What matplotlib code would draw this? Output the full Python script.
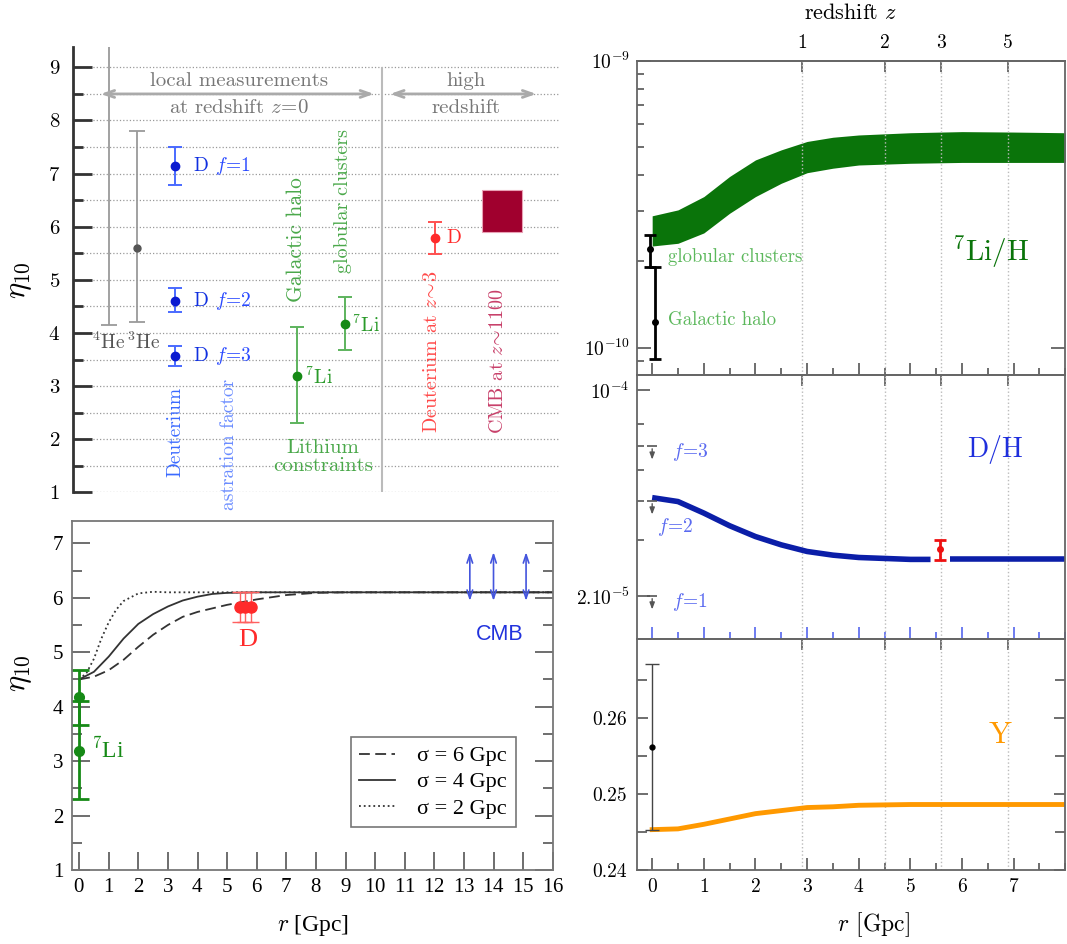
import numpy as np
import matplotlib
matplotlib.use('Agg')
import matplotlib.pyplot as plt
from matplotlib.ticker import FixedLocator, NullFormatter, MultipleLocator

plt.rcParams['font.family'] = 'cmr10'
plt.rcParams['mathtext.fontset'] = 'cm'
plt.rcParams['axes.unicode_minus'] = False
plt.rcParams['axes.formatter.use_mathtext'] = True

# ---------------------------------------------------------------
# eta_10 constraints (upper left); x is a column position 0..100
# ---------------------------------------------------------------
he4_x, he4_low = 7.45, 4.15
he3_x, he3_eta, he3_low, he3_high = 13.3, 5.6, 4.2, 7.8
d_x = 21.1
d_f = [1, 2, 3]
d_eta = [7.14, 4.61, 3.57]
d_low = [6.79, 4.39, 3.38]
d_high = [7.50, 4.85, 3.75]
li_x = [46.1, 55.8]            # Galactic halo, globular clusters
li_eta = [3.19, 4.17]
li_low = [2.30, 3.67]
li_high = [4.11, 4.67]
dz3_x, dz3_eta, dz3_low, dz3_high = 74.3, 5.79, 5.48, 6.08
cmb_x0, cmb_x1 = 84.0, 92.2
cmb_low, cmb_high = 5.9, 6.7
sep_x = 63.5

# ---------------------------------------------------------------
# eta_10(r) profiles (lower left)
# ---------------------------------------------------------------
r_sig6 = [0, 0.5, 1, 1.5, 2, 2.5, 3, 3.5, 4, 5, 6, 7, 8, 9, 16]
eta_sig6 = [4.50, 4.55, 4.67, 4.86, 5.10, 5.32, 5.50, 5.65, 5.74, 5.87, 5.97, 6.05, 6.09, 6.10, 6.10]
r_sig4 = [0, 0.5, 1, 1.5, 2, 2.5, 3, 3.5, 4, 4.5, 5, 6, 16]
eta_sig4 = [4.50, 4.64, 4.92, 5.25, 5.52, 5.70, 5.84, 5.95, 6.02, 6.07, 6.09, 6.10, 6.10]
r_sig2 = [0, 0.25, 0.5, 0.75, 1.0, 1.25, 1.5, 2.0, 2.5, 3.0, 16]
eta_sig2 = [4.50, 4.62, 4.88, 5.25, 5.55, 5.78, 5.94, 6.08, 6.11, 6.10, 6.10]
d_r = [5.42, 5.60, 5.81]
d_eta_r, d_low_r, d_high_r = 5.83, 5.55, 6.11
cmb_r = [13.2, 14.0, 15.1]
cmb_arrow_low, cmb_arrow_high = 5.89, 6.89

# ---------------------------------------------------------------
# abundances vs r (right column)
# ---------------------------------------------------------------
z_labels = [1, 2, 3, 5]
z_r = [2.91, 4.50, 5.60, 6.89]

r_band = [0, 0.5, 1, 1.5, 2, 2.5, 3, 3.5, 4, 5, 6, 7, 8]
li_upper = np.array([2.88, 3.02, 3.36, 3.95, 4.51, 4.89, 5.23, 5.41, 5.51, 5.61, 5.66, 5.64, 5.61]) * 1e-10
li_lower = np.array([2.26, 2.31, 2.51, 2.94, 3.36, 3.74, 4.07, 4.22, 4.33, 4.39, 4.42, 4.42, 4.42]) * 1e-10
li_obs_r = [-0.05, 0.06]       # globular clusters, Galactic halo
li_obs = np.array([2.20, 1.23]) * 1e-10
li_obs_low = np.array([1.91, 0.91]) * 1e-10
li_obs_high = np.array([2.47, 1.91]) * 1e-10

r_dh_a = [0, 0.5, 1, 1.5, 2, 2.5, 3, 3.5, 4, 4.5, 5, 5.39]
dh_a = np.array([4.31, 4.18, 3.82, 3.46, 3.18, 2.98, 2.83, 2.75, 2.70, 2.68, 2.66, 2.66]) * 1e-5
r_dh_b = [5.77, 8]
dh_b = np.array([2.66, 2.66]) * 1e-5
dh_limits = np.array([2.0, 4.2, 6.45]) * 1e-5     # f = 1, 2, 3
dh_obs_r, dh_obs, dh_obs_low, dh_obs_high = 5.58, 2.88e-5, 2.65e-5, 3.10e-5

r_y = [0, 0.5, 1, 1.5, 2, 2.5, 3, 3.5, 4, 5, 6, 8]
y_he = [0.2453, 0.2454, 0.2460, 0.2467, 0.2474, 0.2478, 0.2482, 0.2483, 0.2485, 0.2486, 0.2486, 0.2486]
y_obs, y_obs_low, y_obs_high = 0.2562, 0.2453, 0.2671

GRAY = '#9a9a9a'
BLUE_D = '#1030e0'
GREEN_PT = '#168a16'
GREEN_TXT = '#4aa84a'
RED = '#ff2a2a'

fig = plt.figure(figsize=(10.67, 9.44), dpi=100)

# ================= upper left =================
ax1 = fig.add_axes([0.0681, 0.4785, 0.4567, 0.4715])
ax1.set_xlim(0, 100)
ax1.set_ylim(1, 9.38)
for s in ['top', 'right', 'bottom']:
    ax1.spines[s].set_visible(False)
ax1.spines['left'].set_linewidth(2)
ax1.spines['left'].set_color('#333333')
ax1.set_xticks([])
ax1.set_yticks(range(1, 10))
ax1.yaxis.set_minor_locator(MultipleLocator(0.5))
ax1.tick_params(axis='y', which='major', direction='in', length=14, width=2,
                color='#333333', labelsize=15, pad=9)
ax1.tick_params(axis='y', which='minor', direction='in', length=7, width=2, color='#333333')
ax1.grid(True, which='both', axis='y', ls=':', color='#999999', lw=0.9)
ax1.set_axisbelow(True)

# helium
ax1.vlines(he4_x, he4_low, 9.38, color=GRAY, lw=1.3)
ax1.plot(he4_x, he4_low, marker='_', ms=11, mew=1.3, color=GRAY)
ax1.errorbar(he3_x, he3_eta, yerr=[[he3_eta - he3_low], [he3_high - he3_eta]],
             fmt='o', ms=5, color='#555555', ecolor=GRAY, elinewidth=1.3,
             capsize=5.5, capthick=1.3)
ax1.text(he4_x, 3.83, r'$^4$He', ha='center', va='center', color='#555555', fontsize=14)
ax1.text(he3_x + 1.2, 3.83, r'$^3$He', ha='center', va='center', color='#555555', fontsize=14)

# deuterium with astration factors
for f, e, lo, hi in zip(d_f, d_eta, d_low, d_high):
    ax1.errorbar(d_x, e, yerr=[[e - lo], [hi - e]], fmt='o', ms=6, color='#0a1ad0',
                 ecolor='#4a6aff', elinewidth=1.4, capsize=5, capthick=1.4)
    ax1.text(d_x + 3.6, e, 'D', va='center', color=BLUE_D, fontsize=14)
    ax1.text(d_x + 8.2, e, r'$f\!=\!%d$' % f, va='center', color='#2a4aff', fontsize=14)
ax1.text(d_x, 2.13, 'Deuterium', rotation=90, ha='center', va='center', color='#3a6aff', fontsize=14)
ax1.text(32.0, 1.90, 'astration factor', rotation=90, ha='center', va='center',
         color='#6a8cff', fontsize=14, clip_on=False)

# lithium
for x, e, lo, hi in zip(li_x, li_eta, li_low, li_high):
    ax1.errorbar(x, e, yerr=[[e - lo], [hi - e]], fmt='o', ms=6, color=GREEN_PT,
                 ecolor='#5db35d', elinewidth=1.4, capsize=5, capthick=1.4)
    ax1.text(x + 1.6, e - 0.02, r'$^7$Li', va='center', color='#2a9a2a', fontsize=14)
ax1.text(45.8, 5.75, 'Galactic halo', rotation=90, ha='center', va='center', color=GREEN_TXT, fontsize=15.5)
ax1.text(55.5, 6.49, 'globular clusters', rotation=90, ha='center', va='center', color=GREEN_TXT, fontsize=14.5)
ax1.text(51.4, 1.67, 'Lithium\nconstraints', ha='center', va='center', color=GREEN_TXT,
         fontsize=15, linespacing=1.0)

# high redshift
ax1.vlines(sep_x, 1, 9, color='#bbbbbb', lw=1.5)
ax1.errorbar(dz3_x, dz3_eta, yerr=[[dz3_eta - dz3_low], [dz3_high - dz3_eta]], fmt='o', ms=6,
             color=RED, ecolor='#ff5050', elinewidth=1.4, capsize=5, capthick=1.4)
ax1.text(dz3_x + 2.3, dz3_eta, 'D', va='center', color=RED, fontsize=14)
ax1.text(73.7, 3.64, r'Deuterium at $z\!\sim\!3$', rotation=90, ha='center', va='center',
         color='#ff4a4a', fontsize=14.5)
ax1.bar((cmb_x0 + cmb_x1) / 2, cmb_high - cmb_low, width=cmb_x1 - cmb_x0, bottom=cmb_low,
        color='#a0002e', edgecolor='#e8a0b4', lw=0.8)
ax1.text(87.3, 3.47, r'CMB at $z\!\sim\!1100$', rotation=90, ha='center', va='center',
         color='#c8406a', fontsize=14.5)

# headers
ax1.annotate('', xy=(5.2, 8.5), xytext=(62.4, 8.5),
             arrowprops=dict(arrowstyle='<->, head_length=0.7, head_width=0.25', color='#aaaaaa', lw=2))
ax1.annotate('', xy=(64.6, 8.5), xytext=(95.7, 8.5),
             arrowprops=dict(arrowstyle='<->, head_length=0.7, head_width=0.25', color='#aaaaaa', lw=2))
ax1.text(34.1, 8.75, 'local measurements', ha='center', va='center', color='#777777', fontsize=15)
ax1.text(34.1, 8.23, r'at redshift $z\!=\!0$', ha='center', va='center', color='#777777', fontsize=15)
ax1.text(80.7, 8.75, 'high', ha='center', va='center', color='#777777', fontsize=15)
ax1.text(80.7, 8.23, 'redshift', ha='center', va='center', color='#777777', fontsize=15)

fig.text(20 / 1067, 1 - 280 / 944, r'$\eta_{10}$', rotation=90, ha='center', va='center', fontsize=22)

# ================= lower left =================
ax2 = fig.add_axes([0.0678, 0.0784, 0.4502, 0.3697])
ax2.set_xlim(-0.23, 16)
ax2.set_ylim(1, 7.41)
for s in ax2.spines.values():
    s.set_color('#777777')
    s.set_linewidth(1.3)
ax2.set_xticks(range(0, 17))
ax2.set_yticks(range(1, 8))
ax2.yaxis.set_minor_locator(MultipleLocator(0.5))
ax2.tick_params(which='major', direction='in', length=13, width=1.2, color='#555555',
                labelsize=15, labelfontfamily='Liberation Serif', right=True, pad=6)
ax2.tick_params(axis='y', which='minor', direction='in', length=7, width=1.2, color='#555555', right=True)

ax2.plot(r_sig6, eta_sig6, ls=(0, (6, 3)), color='#333333', lw=1.3, label=u'\u03c3 = 6 Gpc')
ax2.plot(r_sig4, eta_sig4, ls='-', color='#333333', lw=1.3, label=u'\u03c3 = 4 Gpc')
ax2.plot(r_sig2, eta_sig2, ls=':', color='#333333', lw=1.3, label=u'\u03c3 = 2 Gpc')

for e, lo, hi in zip(li_eta, li_low, li_high):
    ax2.errorbar(0, e, yerr=[[e - lo], [hi - e]], fmt='o', ms=7, color=GREEN_PT,
                 elinewidth=2, capsize=7, capthick=2)
ax2.text(0.41, 3.2, r'$^7$Li', va='center', color=GREEN_PT, fontsize=17, family='Liberation Serif')

ax2.errorbar(d_r, [d_eta_r] * len(d_r), yerr=[[d_eta_r - d_low_r] * len(d_r), [d_high_r - d_eta_r] * len(d_r)],
             fmt='o', ms=8, color=RED, ecolor='#ff6060', elinewidth=1, capsize=6, capthick=1)
ax2.text(5.71, 5.22, 'D', ha='center', va='center', color=RED, fontsize=19, family='Liberation Serif')

for r in cmb_r:
    ax2.annotate('', xy=(r, cmb_arrow_high), xytext=(r, cmb_arrow_low),
                 arrowprops=dict(arrowstyle='<->, head_length=0.6, head_width=0.2', color='#4455dd', lw=1.2))
ax2.text(14.22, 5.33, 'CMB', ha='center', va='center', color='#2233dd', fontsize=15.5, family='Liberation Sans')

leg = ax2.legend(loc='lower right', bbox_to_anchor=(0.923, 0.122), fancybox=False, borderaxespad=0,
                 prop={'family': 'Liberation Serif', 'size': 16}, handlelength=1.6,
                 borderpad=0.4, labelspacing=0.25, handletextpad=1.0)
leg.get_frame().set_edgecolor('#555555')
leg.get_frame().set_linewidth(1.2)

fig.text(20 / 1067, 1 - 673 / 944, r'$\eta_{10}$', rotation=90, ha='center', va='center', fontsize=22)
fig.text(313 / 1067, 1 - 925 / 944, r'$r$ [Gpc]', ha='center', va='center', fontsize=17,
         family='Liberation Serif')

# ================= right column =================
axT = fig.add_axes([0.5967, 0.6028, 0.4017, 0.3329])
axM = fig.add_axes([0.5967, 0.3228, 0.4017, 0.2800])
axB = fig.add_axes([0.5967, 0.0784, 0.4017, 0.2444])

for ax, tick_col in [(axT, '#555555'), (axM, '#5566ee'), (axB, '#555555')]:
    ax.set_xlim(-0.3, 8.0)
    for s in ax.spines.values():
        s.set_color('#666666')
        s.set_linewidth(1.3)
    for zr in z_r:
        ax.axvline(zr, ls=':', color='#bbbbbb', lw=1)
    ax.set_xticks(range(0, 8))
    ax.xaxis.set_minor_locator(MultipleLocator(0.5))
    ax.tick_params(axis='x', which='major', direction='in', length=9, width=1.2, color=tick_col)
    ax.tick_params(axis='x', which='minor', direction='in', length=5, width=1.2, color=tick_col)
    sec = ax.secondary_xaxis('top')
    sec.spines['top'].set_color('#666666')
    sec.spines['top'].set_linewidth(1.3)
    sec.set_xticks(z_r)
    sec.tick_params(direction='in', length=8, width=1.2, color='#555555')
    if ax is axT:
        sec.set_xticklabels([str(z) for z in z_labels])
        sec.tick_params(labelsize=14, pad=6)
        sec.set_xlabel(r'redshift $z$', fontsize=16, labelpad=11)
    else:
        sec.set_xticklabels([])

axT.tick_params(axis='x', labelbottom=False)
axM.tick_params(axis='x', labelbottom=False)

# 7Li/H
axT.set_yscale('log')
axT.set_ylim(8.03e-11, 1e-9)
axT.fill_between(r_band, li_lower, li_upper, color='#0a740a', lw=0)
axT.errorbar(li_obs_r, li_obs, yerr=[li_obs - li_obs_low, li_obs_high - li_obs], fmt='o', ms=4,
             color='black', elinewidth=2, capsize=4, capthick=2)
axT.yaxis.set_major_locator(FixedLocator([1e-10, 1e-9]))
axT.set_yticklabels([r'$10^{-10}$', r'$10^{-9}$'])
axT.tick_params(axis='y', which='major', direction='in', length=10, width=1.2, color='#555555',
                right=True, labelsize=14, pad=5)
axT.tick_params(axis='y', which='minor', direction='in', length=5, width=1.2, color='#555555', right=False)
axT.yaxis.set_minor_formatter(NullFormatter())
axT.text(0.31, 2.07e-10, 'globular clusters', va='center', color='#5cb85c', fontsize=13.5)
axT.text(0.31, 1.25e-10, 'Galactic halo', va='center', color='#5cb85c', fontsize=13.5)
axT.text(5.81, 2.16e-10, r'$^7$Li/H', va='center', color='#0a740a', fontsize=21)

# D/H
axM.set_yscale('log')
axM.set_ylim(1.425e-5, 1.124e-4)
axM.plot(r_dh_a, dh_a, color='#0b1ea8', lw=4, solid_capstyle='butt')
axM.plot(r_dh_b, dh_b, color='#0b1ea8', lw=4, solid_capstyle='butt')
axM.errorbar(dh_obs_r, dh_obs, yerr=[[dh_obs - dh_obs_low], [dh_obs_high - dh_obs]], fmt='o', ms=4,
             color='#ee1111', elinewidth=2, capsize=4, capthick=2)
for v in dh_limits:
    axM.plot(0, v, marker='_', ms=7, mew=1.2, color='#555555')
    axM.annotate('', xy=(0, v * 0.88), xytext=(0, v),
                 arrowprops=dict(arrowstyle='-|>, head_length=0.4, head_width=0.15', color='#555555', lw=1))
axM.text(0.38, 6.17e-5, r'$f\!=\!3$', va='center', color='#5a6af0', fontsize=14)
axM.text(0.09, 3.43e-5, r'$f\!=\!2$', va='center', color='#5a6af0', fontsize=14)
axM.text(0.38, 1.91e-5, r'$f\!=\!1$', va='center', color='#5a6af0', fontsize=14)
axM.text(6.10, 6.26e-5, 'D/H', va='center', color='#1f2fdd', fontsize=20)
axM.yaxis.set_major_locator(FixedLocator([2e-5, 1e-4]))
axM.set_yticklabels([r'$2.10^{-5}$', r'$10^{-4}$'])
axM.yaxis.set_minor_locator(FixedLocator([3.09e-5, 4.2e-5, 5.35e-5, 6.45e-5, 7.66e-5]))
axM.yaxis.set_minor_formatter(NullFormatter())
axM.tick_params(axis='y', which='both', direction='in', width=1.2, color='#555555', labelsize=14, pad=5)
axM.tick_params(axis='y', which='major', length=9)
axM.tick_params(axis='y', which='minor', length=5)

# helium mass fraction
axB.set_ylim(0.24, 0.2703)
axB.plot(r_y, y_he, color='#ff9900', lw=3.5)
axB.errorbar(0, y_obs, yerr=[[y_obs - y_obs_low], [y_obs_high - y_obs]], fmt='o', ms=3.5,
             color='black', ecolor='#444444', elinewidth=1, capsize=5, capthick=1)
axB.text(6.74, 0.2577, 'Y', ha='center', va='center', color='#ff9900', fontsize=22)
axB.set_yticks([0.24, 0.25, 0.26])
axB.set_yticklabels(['0.24', '0.25', '0.26'])
axB.yaxis.set_minor_locator(FixedLocator([0.245, 0.255, 0.265]))
axB.tick_params(axis='y', which='both', direction='in', width=1.2, color='#555555',
                right=True, labelsize=14, pad=7)
axB.tick_params(axis='y', which='major', length=8)
axB.tick_params(axis='y', which='minor', length=7)
axB.tick_params(axis='x', which='major', labelsize=14, pad=6)
fig.text(873 / 1067, 1 - 925 / 944, r'$r$ [Gpc]', ha='center', va='center', fontsize=17)

fig.savefig('out.png', dpi=100)
